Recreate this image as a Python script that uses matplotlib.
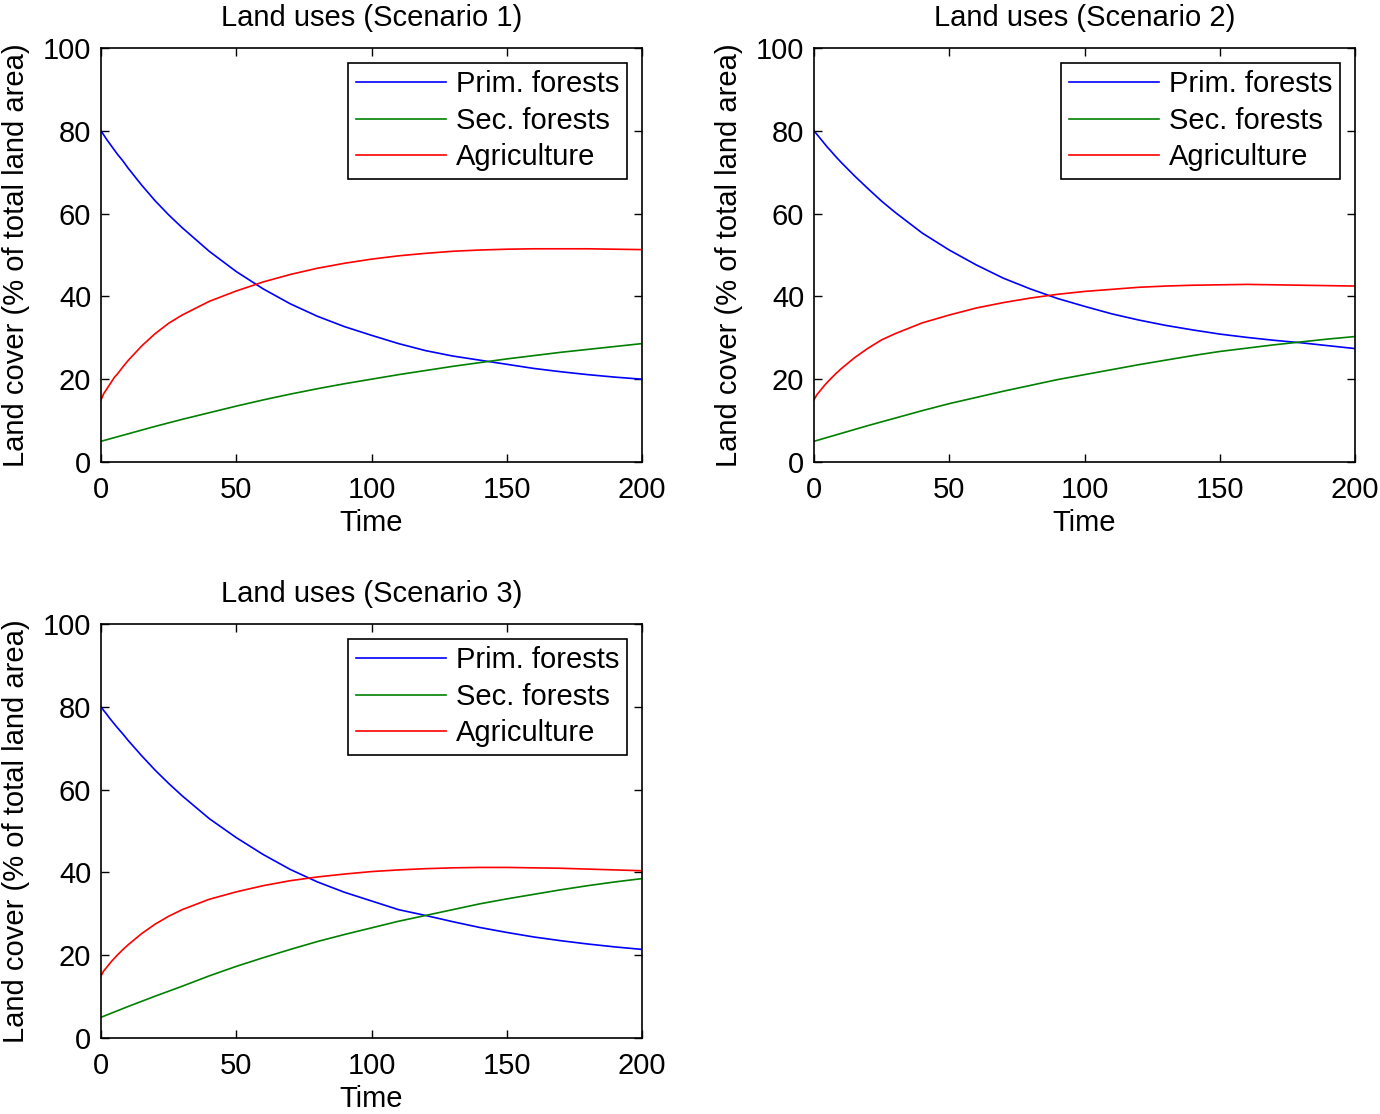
import matplotlib
matplotlib.use("Agg")
import matplotlib.pyplot as plt

plt.rcParams['font.family'] = ['Liberation Sans', 'DejaVu Sans']

# time grids (dense at the start where the curves bend fast)
t_fast = [0, 1, 2, 3, 4, 5, 6, 8, 10, 15, 20, 25, 30, 40, 50, 60, 70, 80, 90,
          100, 110, 120, 130, 140, 150, 160, 170, 180, 190, 200]
t_slow = [0, 10, 20, 30, 40, 50, 60, 70, 80, 90, 100, 110, 120, 130, 140, 150,
          160, 170, 180, 190, 200]

titles = ['Land uses (Scenario 1)', 'Land uses (Scenario 2)', 'Land uses (Scenario 3)']
labels = ['Prim. forests', 'Sec. forests', 'Agriculture']

# scenario 1
prim_1 = [80, 79.0, 78.0, 77.1, 76.2, 75.3, 74.4, 72.8, 71.0, 66.9, 63.1, 59.7,
          56.6, 50.9, 46.0, 41.8, 38.2, 35.2, 32.7, 30.6, 28.6, 26.9, 25.6, 24.6,
          23.6, 22.6, 21.8, 21.1, 20.5, 20.0]
agri_1 = [15, 16.5, 17.5, 18.5, 19.5, 20.5, 21.2, 22.9, 24.5, 28.0, 31.0, 33.5,
          35.5, 38.8, 41.3, 43.5, 45.3, 46.8, 48.0, 49.0, 49.8, 50.4, 50.9, 51.2,
          51.4, 51.5, 51.5, 51.5, 51.4, 51.3]
sec_1 = [5, 6.8, 8.6, 10.3, 11.9, 13.5, 15.0, 16.4, 17.7, 18.9, 20.0, 21.1, 22.1,
         23.1, 24.0, 24.9, 25.7, 26.5, 27.2, 27.9, 28.6]

# scenario 2
prim_2 = [80, 79.2, 78.4, 77.6, 76.8, 76.0, 75.3, 73.8, 72.4, 69.1, 66.0, 63.0,
          60.3, 55.3, 51.2, 47.6, 44.4, 41.8, 39.5, 37.6, 35.8, 34.3, 33.0, 31.9,
          30.9, 30.1, 29.4, 28.8, 28.1, 27.4]
agri_2 = [15, 16.2, 17.0, 17.8, 18.6, 19.3, 20.0, 21.3, 22.5, 25.2, 27.5, 29.5,
          31.0, 33.6, 35.5, 37.2, 38.5, 39.6, 40.5, 41.2, 41.7, 42.2, 42.5, 42.7,
          42.8, 42.9, 42.8, 42.7, 42.6, 42.5]
sec_2 = [5, 6.9, 8.8, 10.6, 12.4, 14.1, 15.6, 17.1, 18.5, 19.9, 21.1, 22.3, 23.5,
         24.6, 25.7, 26.7, 27.5, 28.3, 29.0, 29.7, 30.3]

# scenario 3
prim_3 = [80, 79.1, 78.3, 77.4, 76.6, 75.8, 75.0, 73.5, 71.9, 68.2, 64.7, 61.5,
          58.5, 53.0, 48.4, 44.3, 40.7, 37.7, 35.2, 33.1, 31.0, 29.6, 28.1, 26.7,
          25.5, 24.4, 23.5, 22.7, 22.0, 21.4]
agri_3 = [15, 16.2, 17.0, 17.8, 18.6, 19.3, 20.0, 21.3, 22.5, 25.2, 27.5, 29.4,
          31.0, 33.5, 35.3, 36.8, 38.0, 38.9, 39.6, 40.2, 40.6, 40.9, 41.1, 41.2,
          41.2, 41.1, 41.0, 40.8, 40.6, 40.4]
sec_3 = [5, 7.6, 10.1, 12.5, 15.0, 17.3, 19.4, 21.4, 23.3, 25.0, 26.6, 28.2, 29.6,
         31.0, 32.4, 33.6, 34.7, 35.8, 36.8, 37.7, 38.5]

scenarios = [(prim_1, sec_1, agri_1), (prim_2, sec_2, agri_2), (prim_3, sec_3, agri_3)]

W, H = 1380, 1114
fig = plt.figure(figsize=(W / 100, H / 100), dpi=100)

# axes boxes in pixels: left, top, right, bottom
boxes = [(101, 48, 642, 462), (814, 48, 1355, 462), (101, 624, 642, 1038)]

FS = 21
for i, (prim, sec, agri) in enumerate(scenarios):
    l, t, r, b = boxes[i]
    ax = fig.add_axes([l / W, 1 - b / H, (r - l) / W, (b - t) / H])
    ax.plot(t_fast, prim, color=(0, 0, 1), lw=1.2, label=labels[0])
    ax.plot(t_slow, sec, color=(0, 0.5, 0), lw=1.2, label=labels[1])
    ax.plot(t_fast, agri, color=(1, 0, 0), lw=1.2, label=labels[2])

    ax.set_xlim(0, 200)
    ax.set_ylim(0, 100)
    ax.set_xticks([0, 50, 100, 150, 200])
    ax.set_yticks([0, 20, 40, 60, 80, 100])
    ax.tick_params(direction='in', top=True, right=True, length=6, width=1,
                   labelsize=FS)
    ax.tick_params(axis='x', pad=10)
    ax.tick_params(axis='y', pad=7)
    for sp in ax.spines.values():
        sp.set_linewidth(1.2)

    ax.set_title(titles[i], fontsize=FS, pad=16)
    ax.set_xlabel('Time', fontsize=FS, labelpad=4)
    ax.set_ylabel('Land cover (% of total land area)', fontsize=FS, labelpad=9)

    leg = ax.legend(loc='upper right', fontsize=FS, fancybox=False, framealpha=1,
                    edgecolor='black', handlelength=3.1, handletextpad=0.35,
                    labelspacing=0.29, borderpad=0.27, borderaxespad=0.5)
    leg.get_frame().set_linewidth(1.2)

fig.savefig('out.png', dpi=100)
